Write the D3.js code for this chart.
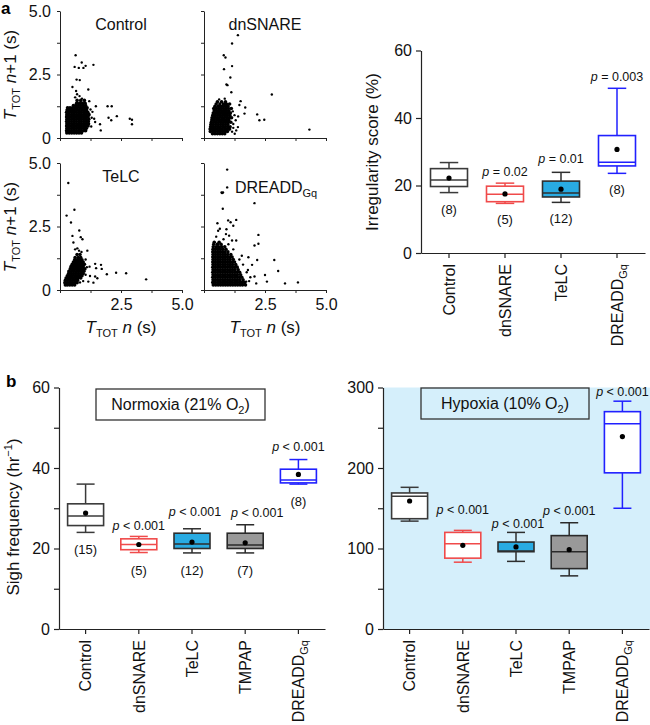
<!DOCTYPE html>
<html>
<head>
<meta charset="utf-8">
<script src="https://cdn.jsdelivr.net/npm/d3@7"></script>
<style>
body { margin: 0; background: #fff; }
svg { font-family: "Liberation Sans", Arial, Helvetica, sans-serif; }
</style>
</head>
<body>
<div id="chart"></div>
<script>
// ---------- panel a, scatter data (TTOT n, TTOT n+1), seconds ----------
// dense clusters are written as rows: [y, x, x, x ...]
const controlCluster = [
  [0.20, 0.28,0.38,0.48,0.58,0.68,0.78,0.88],
  [0.29, 0.27,0.37,0.47,0.57,0.67,0.77,0.87,0.97,1.05],
  [0.38, 0.28,0.38,0.48,0.58,0.68,0.78,0.88,0.98,1.08],
  [0.47, 0.27,0.37,0.47,0.57,0.67,0.77,0.87,0.97,1.07,1.15],
  [0.56, 0.28,0.38,0.48,0.58,0.68,0.78,0.88,0.98,1.08,1.17],
  [0.65, 0.27,0.37,0.47,0.57,0.67,0.77,0.87,0.97,1.07,1.16],
  [0.74, 0.28,0.38,0.48,0.58,0.68,0.78,0.88,0.98,1.08,1.18],
  [0.83, 0.27,0.37,0.47,0.57,0.67,0.77,0.87,0.97,1.07,1.15],
  [0.92, 0.28,0.38,0.48,0.58,0.68,0.78,0.88,0.98,1.08,1.19],
  [1.01, 0.27,0.37,0.47,0.57,0.67,0.77,0.87,0.97,1.07,1.14],
  [1.10, 0.29,0.39,0.49,0.59,0.69,0.79,0.89,0.99,1.09],
  [1.19, 0.31,0.41,0.51,0.61,0.71,0.81,0.91,1.01,1.11],
  [1.28, 0.55,0.65,0.75,0.85,0.95,1.05],
  [1.37, 0.68,0.80,0.92,1.03],
  [1.48, 0.70,0.85,1.00]
];
const controlLoose = [
  [0.64,3.26],[0.89,2.97],[0.60,2.80],[0.77,2.76],[0.96,2.76],[1.05,2.84],[1.37,2.88],
  [0.68,2.30],[0.81,2.28],[0.51,2.01],[1.16,1.91],[1.47,1.25],[1.95,1.25],[2.12,1.25],
  [1.99,0.80],[2.10,0.70],[2.33,0.86],[2.86,0.76],[2.95,0.72],[2.95,0.54],[1.40,0.76],
  [1.44,0.63],[1.64,0.54],[1.67,0.30],[1.33,1.03],[0.62,1.60],[0.70,1.72],[0.80,1.65],
  [0.90,1.55],[1.20,1.45],[0.66,1.85],[1.28,0.45],[1.30,0.80],[1.25,1.12]
];

const dnsnareCluster = [
  [0.17, 0.35,0.45,0.55,0.65,0.75,0.85],
  [0.26, 0.26,0.36,0.46,0.56,0.66,0.76,0.86,0.96],
  [0.35, 0.25,0.35,0.45,0.55,0.65,0.75,0.85,0.95,1.05],
  [0.44, 0.27,0.37,0.47,0.57,0.67,0.77,0.87,0.97,1.07],
  [0.53, 0.28,0.38,0.48,0.58,0.68,0.78,0.88,0.98],
  [0.62, 0.30,0.40,0.50,0.60,0.70,0.80,0.90,1.00,1.10],
  [0.71, 0.32,0.42,0.52,0.62,0.72,0.82,0.92,1.02],
  [0.80, 0.33,0.43,0.53,0.63,0.73,0.83,0.93,1.03,1.13],
  [0.89, 0.36,0.46,0.56,0.66,0.76,0.86,0.96,1.06],
  [0.98, 0.38,0.48,0.58,0.68,0.78,0.88,0.98,1.08],
  [1.07, 0.42,0.52,0.62,0.72,0.82,0.92,1.02],
  [1.16, 0.40,0.50,0.60,0.70,0.80,0.90,1.00,1.12],
  [1.25, 0.45,0.58,0.68,0.78,0.88,0.98],
  [1.34, 0.50,0.65,0.80,0.92,1.05],
  [1.43, 0.55,0.72,0.88]
];
const dnsnareLoose = [
  [1.39,4.05],[1.15,3.72],[0.81,3.26],[0.88,3.17],[0.82,2.71],[1.15,2.83],[1.08,2.38],
  [0.92,2.11],[0.96,2.08],[2.78,1.71],[1.12,1.80],[1.69,1.20],[1.50,1.45],[2.18,0.93],
  [2.27,0.70],[2.47,0.72],[4.32,0.33],[1.66,0.96],[1.39,0.43],[1.26,0.17],[1.32,0.30],
  [0.62,1.52],[0.85,1.55],[1.20,0.55],[1.25,0.90],[1.18,1.05],[1.30,0.70],[1.15,0.25],
  [1.45,1.30],[1.40,0.85],[1.20,0.40]
];

const telcCluster = [
  [0.20, 0.22,0.30,0.40,0.50,0.60],
  [0.29, 0.20,0.30,0.40,0.50,0.60,0.70],
  [0.38, 0.22,0.32,0.42,0.52,0.62,0.72],
  [0.47, 0.25,0.35,0.45,0.55,0.65,0.75,0.85],
  [0.56, 0.30,0.40,0.50,0.60,0.70,0.80,0.90],
  [0.65, 0.35,0.45,0.55,0.65,0.75,0.85,0.95],
  [0.74, 0.38,0.48,0.58,0.68,0.78,0.88,0.98],
  [0.83, 0.42,0.52,0.62,0.72,0.82,0.92,1.02],
  [0.92, 0.45,0.55,0.65,0.75,0.85,0.95],
  [1.01, 0.50,0.60,0.70,0.80,0.90,1.00],
  [1.10, 0.55,0.65,0.75,0.85,0.95],
  [1.19, 0.60,0.70,0.80,0.90],
  [1.28, 0.62,0.75,0.85],
  [1.40, 0.70,0.82]
];
const telcLoose = [
  [0.34,4.21],[0.27,2.93],[0.59,3.16],[0.45,2.66],[0.79,2.34],[0.85,2.08],[0.92,2.00],
  [0.51,2.13],[0.55,1.87],[1.12,1.55],[0.71,1.64],[1.21,0.92],[1.44,1.03],[1.48,0.86],
  [1.68,0.99],[1.71,0.83],[1.92,0.62],[2.30,0.68],[2.71,0.66],[3.53,0.42],[1.23,0.55],
  [1.44,0.53],[1.53,0.46],[1.16,0.33],[1.37,0.29],[0.78,1.55],[0.88,1.50],[0.62,1.60],
  [1.05,1.20],[1.05,0.60],[1.10,0.90],[0.30,0.55],[0.35,0.75],[0.95,0.35],[0.82,0.30]
];

const dreaddCluster = [
  [0.20, 0.38,0.48,0.58,0.68,0.78,0.88,0.98,1.08,1.18,1.28,1.38,1.48,1.58,1.70],
  [0.30, 0.36,0.46,0.56,0.66,0.76,0.86,0.96,1.06,1.16,1.26,1.36,1.46,1.56,1.66],
  [0.40, 0.37,0.47,0.57,0.67,0.77,0.87,0.97,1.07,1.17,1.27,1.37,1.47,1.60],
  [0.50, 0.36,0.46,0.56,0.66,0.76,0.86,0.96,1.06,1.16,1.26,1.36,1.46,1.55],
  [0.60, 0.37,0.47,0.57,0.67,0.77,0.87,0.97,1.07,1.17,1.27,1.37,1.50],
  [0.70, 0.36,0.46,0.56,0.66,0.76,0.86,0.96,1.06,1.16,1.26,1.36,1.46],
  [0.80, 0.37,0.47,0.57,0.67,0.77,0.87,0.97,1.07,1.17,1.27,1.40],
  [0.90, 0.36,0.46,0.56,0.66,0.76,0.86,0.96,1.06,1.16,1.26,1.36],
  [1.00, 0.37,0.47,0.57,0.67,0.77,0.87,0.97,1.07,1.17,1.30],
  [1.10, 0.36,0.46,0.56,0.66,0.76,0.86,0.96,1.06,1.16,1.25],
  [1.20, 0.37,0.47,0.57,0.67,0.77,0.87,0.97,1.07,1.20],
  [1.30, 0.36,0.46,0.56,0.66,0.76,0.86,0.96,1.06,1.15],
  [1.40, 0.37,0.47,0.57,0.67,0.77,0.87,0.97,1.10],
  [1.50, 0.36,0.46,0.56,0.66,0.76,0.86,0.98],
  [1.60, 0.37,0.47,0.57,0.67,0.77,0.90],
  [1.70, 0.38,0.50,0.60,0.72,0.85],
  [1.80, 0.40,0.55,0.70],
  [1.88, 0.42,0.62]
];
const dreaddLoose = [
  [0.95,4.74],[0.95,4.04],[0.72,3.84],[0.74,3.82],[0.78,3.84],[0.77,3.20],[2.07,3.42],
  [0.99,2.74],[1.09,2.67],[1.32,2.76],[1.20,2.53],[0.55,2.63],[0.65,2.41],[0.58,2.33],
  [0.92,2.39],[1.03,2.14],[2.23,2.17],[2.07,1.75],[2.23,1.82],[1.32,1.95],[2.88,1.18],
  [3.04,0.75],[3.85,0.30],[3.32,0.26],[2.50,0.59],[2.58,0.33],[2.18,1.18],[1.97,0.99],
  [1.82,1.29],[2.07,0.53],[2.14,0.26],[1.73,0.33],[1.80,0.79],[0.80,2.00],[1.00,1.80],
  [1.20,1.60],[1.45,1.20],[1.60,1.00],[1.75,0.70],[1.90,0.50],[1.85,0.35],[1.55,1.35],
  [0.50,2.10],[0.90,2.20],[1.15,1.95]
];

// ---------- panel a, irregularity score (%) ----------
const irrCats = ['Control', 'dnSNARE', 'TeLC', 'DREADDGq'];
const irrLow = [17.9, 14.7, 15.0, 23.6];
const irrQ1 = [19.7, 15.2, 16.6, 25.8];
const irrMed = [21.6, 17.4, 17.8, 26.9];
const irrQ3 = [25.0, 19.8, 21.3, 34.8];
const irrHigh = [26.8, 20.7, 23.9, 48.8];
const irrMean = [22.2, 17.5, 18.9, 30.7];
const irrN = ['(8)', '(5)', '(12)', '(8)'];
const irrP = ['', 'p = 0.02', 'p = 0.01', 'p = 0.003'];

// ---------- panel b, sigh frequency (hr-1) ----------
const sighCats = ['Control', 'dnSNARE', 'TeLC', 'TMPAP', 'DREADDGq'];
const normLow = [24.0, 19.0, 18.9, 18.9, 36.0];
const normQ1 = [25.7, 19.7, 20.0, 20.0, 36.3];
const normMed = [28.1, 21.0, 21.1, 20.9, 37.0];
const normQ3 = [31.1, 22.4, 23.8, 23.8, 39.7];
const normHigh = [36.0, 23.0, 24.9, 25.9, 42.1];
const normMean = [28.8, 21.0, 21.6, 21.4, 38.4];
const normN = ['(15)', '(5)', '(12)', '(7)', '(8)'];
const normP = ['', 'p < 0.001', 'p < 0.001', 'p < 0.001', 'p < 0.001'];

const hypLow = [134, 83, 84, 66, 150];
const hypQ1 = [137, 88, 96, 75, 194];
const hypMed = [165, 106, 97, 96, 255];
const hypQ3 = [169, 120, 108, 116, 270];
const hypHigh = [176, 122.5, 120, 132, 283];
const hypMean = [159, 104, 102, 98.5, 239];
const hypP = ['', 'p < 0.001', 'p < 0.001', 'p < 0.001', 'p < 0.001'];

// colours per group
const groupStyle = {
  Control: { stroke: '#3a3a3a', fill: '#ffffff' },
  dnSNARE: { stroke: '#f04a4a', fill: '#ffffff' },
  TeLC: { stroke: '#2e2e2e', fill: '#29abe2' },
  TMPAP: { stroke: '#2a2a2a', fill: '#999999' },
  DREADDGq: { stroke: '#2020ff', fill: '#ffffff' }
};

const svg = d3.select('#chart')
  .append('svg')
  .attr('width', 650)
  .attr('height', 725);

const rows2pts = rows => rows.flatMap(r => r.slice(1).map(x => [x, r[0]]));

// label helpers
function ttotLabel(sel, plusOne) {
  sel.append('tspan').style('font-style', 'italic').text('T');
  sel.append('tspan').attr('font-size', 11).attr('dy', 4).text('TOT');
  sel.append('tspan').attr('dy', -4).style('font-style', 'italic').text(' n');
  sel.append('tspan').text(plusOne ? '+1 (s)' : ' (s)');
}
function catLabel(sel, name) {
  if (name === 'DREADDGq') {
    sel.append('tspan').text('DREADD');
    sel.append('tspan').attr('font-size', 11).attr('dy', 4).text('Gq');
  } else {
    sel.text(name);
  }
}
function pLabel(sel, txt) {
  sel.append('tspan').style('font-style', 'italic').text('p');
  sel.append('tspan').text(txt.slice(1));
}

// ---------- scatter panels ----------
function drawScatter(cluster, loose, left, top, title, showX, showY) {
  const x = d3.scaleLinear().domain([0, 5]).range([left, left + 122]);
  const y = d3.scaleLinear().domain([0, 5]).range([top + 127, top]);
  const ticks = [0, 1.25, 2.5, 3.75, 5];
  const fmt = d => (d === 2.5 || d === 5) ? d.toFixed(1) : (d === 0 ? '0' : '');
  const g = svg.append('g');

  const ya = g.append('g')
    .attr('transform', `translate(${left},0)`)
    .call(d3.axisLeft(y).tickValues(ticks).tickSize(3).tickSizeOuter(0).tickPadding(6)
      .tickFormat(showY ? fmt : () => ''));
  const xa = g.append('g')
    .attr('transform', `translate(0,${top + 127})`)
    .call(d3.axisBottom(x).tickValues(ticks).tickSize(3).tickSizeOuter(0).tickPadding(6)
      .tickFormat(showX ? (d => d === 0 ? '' : fmt(d)) : () => ''));
  [ya, xa].forEach(a => {
    a.selectAll('text').attr('font-size', 16).attr('font-family', null).attr('fill', '#111');
    a.selectAll('line,path').attr('stroke', '#222');
  });

  // dense core first, then the single beats around it
  g.selectAll('circle.core')
    .data(rows2pts(cluster))
    .enter().append('circle')
    .attr('class', 'core')
    .attr('cx', d => x(d[0]))
    .attr('cy', d => y(d[1]))
    .attr('r', 1.8)
    .attr('fill', '#000');
  g.selectAll('circle.pt')
    .data(loose)
    .enter().append('circle')
    .attr('class', 'pt')
    .attr('cx', d => x(d[0]))
    .attr('cy', d => y(d[1]))
    .attr('r', 1.2)
    .attr('fill', '#000');

  const t = g.append('text')
    .attr('font-size', 16)
    .attr('fill', '#111');
  if (title === 'DREADDGq') {
    t.attr('x', left + 31).attr('y', top + 30);
    catLabel(t, title);
  } else {
    t.attr('x', left + 61).attr('y', top + 19).attr('text-anchor', 'middle').text(title);
  }
}

drawScatter(controlCluster, controlLoose, 60, 11, 'Control', false, true);
drawScatter(dnsnareCluster, dnsnareLoose, 204, 11, 'dnSNARE', false, false);
drawScatter(telcCluster, telcLoose, 60, 163, 'TeLC', true, true);
drawScatter(dreaddCluster, dreaddLoose, 204, 163, 'DREADDGq', true, false);

// scatter axis titles
[75, 227].forEach(cy => {
  const t = svg.append('text')
    .attr('transform', `translate(16,${cy}) rotate(-90)`)
    .attr('text-anchor', 'middle')
    .attr('font-size', 17)
    .attr('fill', '#111');
  ttotLabel(t, true);
});
[121, 265].forEach(cx => {
  const t = svg.append('text')
    .attr('x', cx).attr('y', 333)
    .attr('text-anchor', 'middle')
    .attr('font-size', 17)
    .attr('fill', '#111');
  ttotLabel(t, false);
});

// ---------- box plot helper ----------
function drawBoxPanel(opt) {
  const { cats, low, q1, med, q3, high, mean, x, y, boxW, yTicks, yLabels } = opt;
  const g = svg.append('g');
  const y0 = y.range()[0];

  const ya = g.append('g')
    .attr('transform', `translate(${x.range()[0]},0)`)
    .call(d3.axisLeft(y).tickValues(yTicks).tickSize(5).tickSizeOuter(0).tickPadding(4)
      .tickFormat(d => yLabels.includes(d) ? d : ''));
  const xa = g.append('g')
    .attr('transform', `translate(0,${y0})`)
    .call(d3.axisBottom(x).tickSize(5).tickSizeOuter(0).tickFormat(() => ''));
  [ya, xa].forEach(a => {
    a.selectAll('text').attr('font-size', 16).attr('font-family', null).attr('fill', '#111');
    a.selectAll('line,path').attr('stroke', '#222').attr('stroke-width', 1.2);
  });

  const idx = d3.range(cats.length);
  const cx = i => x(cats[i]) + x.bandwidth() / 2;
  const box = g.selectAll('g.box').data(idx).enter().append('g').attr('class', 'box');

  box.append('line')
    .attr('x1', cx).attr('x2', cx)
    .attr('y1', i => y(high[i])).attr('y2', i => y(q3[i]))
    .attr('stroke', i => groupStyle[cats[i]].stroke).attr('stroke-width', 1.5);
  box.append('line')
    .attr('x1', cx).attr('x2', cx)
    .attr('y1', i => y(q1[i])).attr('y2', i => y(low[i]))
    .attr('stroke', i => groupStyle[cats[i]].stroke).attr('stroke-width', 1.5);
  [high, low].forEach(arr => {
    box.append('line')
      .attr('x1', i => cx(i) - boxW / 4).attr('x2', i => cx(i) + boxW / 4)
      .attr('y1', i => y(arr[i])).attr('y2', i => y(arr[i]))
      .attr('stroke', i => groupStyle[cats[i]].stroke).attr('stroke-width', 1.5);
  });
  box.append('rect')
    .attr('x', i => cx(i) - boxW / 2)
    .attr('y', i => y(q3[i]))
    .attr('width', boxW)
    .attr('height', i => y(q1[i]) - y(q3[i]))
    .attr('fill', i => opt.fills ? opt.fills[i] : groupStyle[cats[i]].fill)
    .attr('stroke', i => groupStyle[cats[i]].stroke)
    .attr('stroke-width', 1.6);
  box.append('line')
    .attr('x1', i => cx(i) - boxW / 2).attr('x2', i => cx(i) + boxW / 2)
    .attr('y1', i => y(med[i])).attr('y2', i => y(med[i]))
    .attr('stroke', i => groupStyle[cats[i]].stroke).attr('stroke-width', 1.5);
  box.append('circle')
    .attr('cx', cx).attr('cy', i => y(mean[i]))
    .attr('r', 2.6).attr('fill', '#000');

  // p values above, n below
  if (opt.p) {
    box.filter(i => opt.p[i]).append('text')
      .attr('x', i => cx(i) + (opt.pShift ? opt.pShift[i] : 0))
      .attr('y', i => y(high[i]) - opt.pGap[i])
      .attr('text-anchor', 'middle')
      .attr('font-size', 12.5)
      .attr('fill', '#111')
      .each(function (i) { pLabel(d3.select(this), opt.p[i]); });
  }
  if (opt.n) {
    box.append('text')
      .attr('x', cx)
      .attr('y', i => y(low[i]) + opt.nGap)
      .attr('text-anchor', 'middle')
      .attr('font-size', 13)
      .attr('fill', '#111')
      .text(i => opt.n[i]);
  }

  // rotated category labels
  box.append('text')
    .attr('transform', i => `translate(${cx(i)},${y0 + 11}) rotate(-90)`)
    .attr('text-anchor', 'end')
    .attr('dy', '0.36em')
    .attr('font-size', 16)
    .attr('fill', '#111')
    .each(function (i) { catLabel(d3.select(this), cats[i]); });
  return g;
}

// ---------- irregularity score ----------
const irrX = d3.scaleBand().domain(irrCats).range([421, 645]);
const irrY = d3.scaleLinear().domain([0, 60]).range([253, 50.5]);
drawBoxPanel({
  cats: irrCats, low: irrLow, q1: irrQ1, med: irrMed, q3: irrQ3, high: irrHigh, mean: irrMean,
  x: irrX, y: irrY, boxW: 37, yTicks: [0, 20, 40, 60], yLabels: [0, 20, 40, 60],
  p: irrP, pGap: [0, 7, 9, 7], n: irrN, nGap: 21
});
svg.append('text')
  .attr('transform', 'translate(378,152) rotate(-90)')
  .attr('text-anchor', 'middle')
  .attr('font-size', 17)
  .attr('fill', '#111')
  .text('Irregularity score (%)');

// ---------- hypoxia background ----------
const hypX = d3.scaleBand().domain(sighCats).range([383, 649]);
const hypY = d3.scaleLinear().domain([0, 300]).range([629, 387.5]);
svg.append('rect')
  .attr('x', 383).attr('y', hypY(300))
  .attr('width', 650 - 383).attr('height', hypY(0) - hypY(300))
  .attr('fill', '#d5effb');

// ---------- normoxia ----------
const normX = d3.scaleBand().domain(sighCats).range([59, 325]);
const normY = d3.scaleLinear().domain([0, 60]).range([629, 387.5]);
drawBoxPanel({
  cats: sighCats, low: normLow, q1: normQ1, med: normMed, q3: normQ3, high: normHigh, mean: normMean,
  x: normX, y: normY, boxW: 36, yTicks: [0, 10, 20, 30, 40, 50, 60], yLabels: [0, 20, 40, 60],
  p: normP, pGap: [0, 6, 13, 8, 9], pShift: [0, 0, 3, 12, 0], n: normN, nGap: 22
});

drawBoxPanel({
  cats: sighCats, low: hypLow, q1: hypQ1, med: hypMed, q3: hypQ3, high: hypHigh, mean: hypMean,
  x: hypX, y: hypY, boxW: 36, yTicks: [0, 50, 100, 150, 200, 250, 300], yLabels: [0, 100, 200, 300],
  fills: ['#ffffff', '#ffffff', '#29abe2', '#999999', '#ffffff'],
  p: hypP, pGap: [0, 16, 4, 8, 5], pShift: [0, 0, 2, 0, 0]
});

// condition boxes
function condBox(x0, x1, yTop, fill, main, pct) {
  svg.append('rect')
    .attr('x', x0).attr('y', yTop)
    .attr('width', x1 - x0).attr('height', 31)
    .attr('fill', fill).attr('stroke', '#333').attr('stroke-width', 1.3);
  const t = svg.append('text')
    .attr('x', (x0 + x1) / 2).attr('y', yTop + 21)
    .attr('text-anchor', 'middle')
    .attr('font-size', 16)
    .attr('fill', '#111');
  t.append('tspan').text(`${main} (${pct}% O`);
  t.append('tspan').attr('font-size', 11).attr('dy', 4).text('2');
  t.append('tspan').attr('dy', -4).text(')');
}
condBox(96, 265, 389, '#ffffff', 'Normoxia', 21);
condBox(421, 589, 388, 'none', 'Hypoxia', 10);

// sigh frequency axis title
const sf = svg.append('text')
  .attr('transform', 'translate(19,517) rotate(-90)')
  .attr('text-anchor', 'middle')
  .attr('font-size', 17)
  .attr('fill', '#111');
sf.append('tspan').text('Sigh frequency (hr');
sf.append('tspan').attr('font-size', 11).attr('dy', -7).text('\u22121');
sf.append('tspan').attr('dy', 7).text(')');

// panel letters
svg.append('text').attr('x', 1).attr('y', 14).attr('font-size', 17).attr('font-weight', 'bold').text('a');
svg.append('text').attr('x', 6).attr('y', 387).attr('font-size', 17).attr('font-weight', 'bold').text('b');
</script>
</body>
</html>
